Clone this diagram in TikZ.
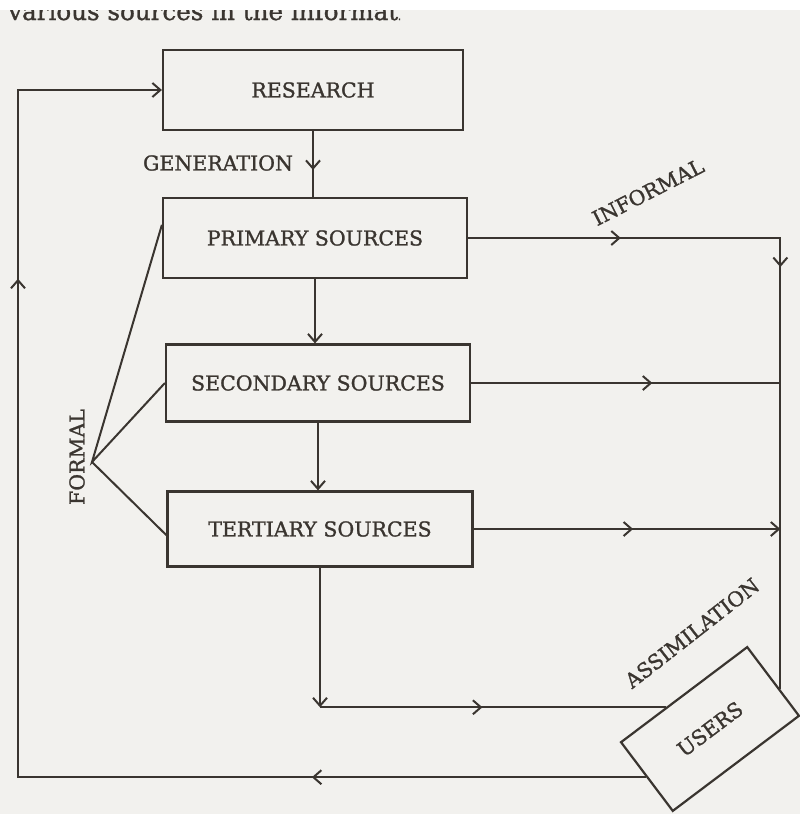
\documentclass[tikz,border=0pt]{standalone}
\usepackage{fontspec}
\setmainfont{DejaVu Serif}
\newfontface\lblface[FakeBold=1.2]{DejaVu Serif}
\usetikzlibrary{arrows.meta,decorations.markings,calc}
\definecolor{ink}{HTML}{3A3530}
\definecolor{paper}{HTML}{F2F1EE}
\newcommand\lblfont{\lblface\fontsize{20.5}{24}\selectfont}
\tikzset{
  barb/.tip={Straight Barb[length=8pt,width=14pt]},
  wire/.style={draw=ink, line width=2pt, line join=miter},
  midarrow/.style={postaction={decorate, decoration={markings, mark=at position #1 with {\arrow{barb}}}}},
  srcbox/.style={draw=ink, line width=2.2pt, rectangle, text=ink, font=\lblfont, inner sep=0pt},
  lbl/.style={text=ink, font=\lblfont, inner sep=0pt},
}
\begin{document}
\begin{tikzpicture}[x=1pt,y=-1pt]
\fill[paper] (0,0) rectangle (800,814);
\fill[white] (0,0) rectangle (800,10);
\useasboundingbox (0,0) rectangle (800,814);
\begin{scope}
\clip (0,10) rectangle (400,30);
\node[anchor=base west, text=ink, font=\lblface\fontsize{24.6}{28}\selectfont, inner sep=0pt] (toptext) at (8,20) {various sources in the information};
\end{scope}

% boxes
\node[srcbox, minimum width=300pt, minimum height=80pt] (research) at (313,90) {RESEARCH};
\node[srcbox, minimum width=304pt, minimum height=80pt] (primary) at (315,238) {PRIMARY SOURCES};
\node[srcbox, minimum width=304pt, minimum height=77pt] (secondary) at (318,383) {SECONDARY SOURCES};
\node[srcbox, minimum width=305pt, minimum height=75pt] (tertiary) at (320,529) {TERTIARY SOURCES};
\node[srcbox, minimum width=158pt, minimum height=86pt, rotate=37] (users) at (710,729) {USERS};

% labels
\node[lbl] (generation) at (218,163) {GENERATION};
\node[lbl, rotate=27] (informal) at (648,192) {INFORMAL};
\node[lbl, rotate=90] (formal) at (77,457) {FORMAL};
\node[lbl, rotate=38] (assim) at (692,633) {ASSIMILATION};

% coordinates
\coordinate (usersE) at ($(users.north east)!0.62!(users.south east)$);
\coordinate (usersN) at ($(users.north west)!0.36!(users.north east)$);
\coordinate (usersW) at (users.west);
\coordinate (tr) at (primary.east -| usersE);
\coordinate (tl) at (18,90);
\coordinate (bl) at (usersW -| tl);
\coordinate (tcorner) at (tertiary.south |- usersN);
\coordinate (apex) at (92,462);
\coordinate (formalP) at ($(primary.north west)!0.34!(primary.south west)$);
\coordinate (formalT) at ($(tertiary.north west)!0.58!(tertiary.south west)$);

% main chain
\draw[wire, midarrow=0.59] (research.south) -- (research.south |- primary.north);
\draw[wire, -{barb}] (primary.south) -- (primary.south |- secondary.north);
\draw[wire, -{barb}] (secondary.south) -- (secondary.south |- tertiary.north);

% informal channel
\draw[wire, midarrow=0.20, midarrow=0.447] (primary.east) -- (tr) -- (usersE);
\draw[wire, midarrow=0.586] (secondary.east) -- (secondary.east -| tr);
\draw[wire, midarrow=0.52, -{barb}] (tertiary.east) -- (tertiary.east -| tr);

% tertiary to users
\draw[wire, -{barb}] (tertiary.south) -- (tcorner);
\draw[wire, midarrow=0.47] (tcorner) -- (usersN);

% feedback loop
\draw[wire, midarrow=0.229, midarrow=0.772, -{barb}] (usersW) -- (bl) -- (tl) -- (research.west);

% formal fan
\draw[wire] (formalP) -- (apex) -- (secondary.west);
\draw[wire] (apex) -- (formalT);
\end{tikzpicture}
\end{document}
